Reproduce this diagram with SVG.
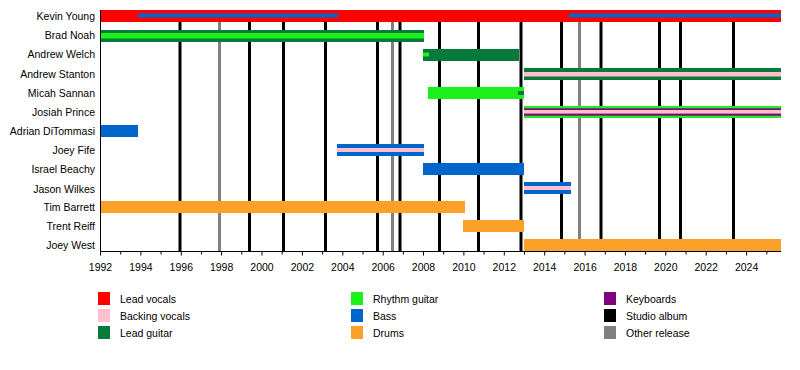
<svg xmlns="http://www.w3.org/2000/svg" width="800" height="370" viewBox="0 0 800 370">
<style>
text{font-family:"Liberation Sans",Arial,sans-serif;font-size:10.5px;fill:#000}
.name{text-anchor:end}
.yr{text-anchor:middle}
.lv{fill:#FF0000}.bv{fill:#FFC0CB}.lg{fill:#077A3B}.rg{fill:#1BF01B}.ba{fill:#0066CC}.dr{fill:#FBA12A}.kb{fill:#800080}
.sa{stroke:#000;stroke-width:3}.or{stroke:#808080;stroke-width:3}
.ax{stroke:#000;stroke-width:1;fill:none}
</style>
<rect width="800" height="370" fill="#fff"/>
<g id="releases">
<line class="sa" x1="180" y1="10" x2="180" y2="251"/>
<line class="or" x1="219.5" y1="10" x2="219.5" y2="251"/>
<line class="sa" x1="249.5" y1="10" x2="249.5" y2="251"/>
<line class="sa" x1="283.5" y1="10" x2="283.5" y2="251"/>
<line class="sa" x1="325.5" y1="10" x2="325.5" y2="251"/>
<line class="sa" x1="377.5" y1="10" x2="377.5" y2="251"/>
<line class="or" x1="392.5" y1="10" x2="392.5" y2="251"/>
<line class="sa" x1="400" y1="10" x2="400" y2="251"/>
<line class="sa" x1="439.5" y1="10" x2="439.5" y2="251"/>
<line class="sa" x1="478.5" y1="10" x2="478.5" y2="251"/>
<line class="sa" x1="521" y1="10" x2="521" y2="251"/>
<line class="sa" x1="561.5" y1="10" x2="561.5" y2="251"/>
<line class="or" x1="579.5" y1="10" x2="579.5" y2="251"/>
<line class="sa" x1="601" y1="10" x2="601" y2="251"/>
<line class="sa" x1="659.5" y1="10" x2="659.5" y2="251"/>
<line class="sa" x1="680.5" y1="10" x2="680.5" y2="251"/>
<line class="sa" x1="733.5" y1="10" x2="733.5" y2="251"/>
</g>
<g id="kevin-young">
<text class="name" x="95" y="20">Kevin Young</text>
<rect class="lv" x="100" y="10" width="681" height="12"/>
<rect class="ba" x="138" y="13.5" width="200" height="4"/>
<rect class="ba" x="569" y="13.5" width="212" height="4"/>
</g>
<g id="brad-noah">
<text class="name" x="95" y="39">Brad Noah</text>
<rect class="lg" x="100" y="30" width="324" height="12"/>
<rect class="rg" x="100" y="33" width="324" height="5.5"/>
</g>
<g id="andrew-welch">
<text class="name" x="95" y="58">Andrew Welch</text>
<rect class="lg" x="423" y="49" width="96" height="12"/>
<rect class="rg" x="423" y="52.5" width="6" height="4"/>
</g>
<g id="andrew-stanton">
<text class="name" x="95" y="78">Andrew Stanton</text>
<rect class="lg" x="524" y="68" width="257" height="12"/>
<rect class="bv" x="524" y="72" width="257" height="4.5"/>
</g>
<g id="micah-sannan">
<text class="name" x="95" y="97">Micah Sannan</text>
<rect class="rg" x="428" y="87" width="96" height="12"/>
<rect class="lg" x="518" y="91" width="6" height="4"/>
</g>
<g id="josiah-prince">
<text class="name" x="95" y="116">Josiah Prince</text>
<rect class="rg" x="524" y="106" width="257" height="12"/>
<rect class="kb" x="524" y="108.3" width="257" height="7.4"/>
<rect class="bv" x="524" y="110" width="257" height="3.6"/>
</g>
<g id="adrian-ditommasi">
<text class="name" x="95" y="135">Adrian DiTommasi</text>
<rect class="ba" x="100" y="125" width="38" height="12"/>
</g>
<g id="joey-fife">
<text class="name" x="95" y="154">Joey Fife</text>
<rect class="ba" x="337" y="144" width="87" height="12"/>
<rect class="bv" x="337" y="148" width="87" height="4"/>
</g>
<g id="israel-beachy">
<text class="name" x="95" y="173">Israel Beachy</text>
<rect class="ba" x="423" y="163" width="101" height="12"/>
</g>
<g id="jason-wilkes">
<text class="name" x="95" y="193">Jason Wilkes</text>
<rect class="ba" x="524" y="182" width="47" height="12"/>
<rect class="bv" x="524" y="186" width="47" height="4"/>
</g>
<g id="tim-barrett">
<text class="name" x="95" y="211">Tim Barrett</text>
<rect class="dr" x="100" y="201" width="365" height="12"/>
</g>
<g id="trent-reiff">
<text class="name" x="95" y="230">Trent Reiff</text>
<rect class="dr" x="463" y="220" width="61" height="12"/>
</g>
<g id="joey-west">
<text class="name" x="95" y="249">Joey West</text>
<rect class="dr" x="524" y="239" width="257" height="12"/>
</g>
<g id="axis">
<path class="ax" d="M100.5 10 V251.5 H781"/>
<path class="ax" d="M100.5 251.5v4M120.7 251.5v3M140.9 251.5v4M161.1 251.5v3M181.3 251.5v4M201.5 251.5v3M221.6 251.5v4M241.8 251.5v3M262 251.5v4M282.2 251.5v3M302.4 251.5v4M322.6 251.5v3M342.8 251.5v4M363 251.5v3M383.2 251.5v4M403.4 251.5v3M423.5 251.5v4M443.7 251.5v3M463.9 251.5v4M484.1 251.5v3M504.3 251.5v4M524.5 251.5v3M544.7 251.5v4M564.9 251.5v3M585.1 251.5v4M605.3 251.5v3M625.4 251.5v4M645.6 251.5v3M665.8 251.5v4M686 251.5v3M706.2 251.5v4M726.4 251.5v3M746.6 251.5v4M766.8 251.5v3"/>
<text class="yr" x="100.5" y="271">1992</text>
<text class="yr" x="140.9" y="271">1994</text>
<text class="yr" x="181.3" y="271">1996</text>
<text class="yr" x="221.6" y="271">1998</text>
<text class="yr" x="262" y="271">2000</text>
<text class="yr" x="302.4" y="271">2002</text>
<text class="yr" x="342.8" y="271">2004</text>
<text class="yr" x="383.2" y="271">2006</text>
<text class="yr" x="423.5" y="271">2008</text>
<text class="yr" x="463.9" y="271">2010</text>
<text class="yr" x="504.3" y="271">2012</text>
<text class="yr" x="544.7" y="271">2014</text>
<text class="yr" x="585.1" y="271">2016</text>
<text class="yr" x="625.4" y="271">2018</text>
<text class="yr" x="665.8" y="271">2020</text>
<text class="yr" x="706.2" y="271">2022</text>
<text class="yr" x="746.6" y="271">2024</text>
</g>
<g id="legend">
<rect class="lv" x="98" y="292" width="12" height="13"/><text x="120" y="303">Lead vocals</text>
<rect class="bv" x="98" y="309" width="12" height="13"/><text x="120" y="320">Backing vocals</text>
<rect class="lg" x="98" y="326" width="12" height="13"/><text x="120" y="337">Lead guitar</text>
<rect class="rg" x="351" y="292" width="12" height="13"/><text x="373" y="303">Rhythm guitar</text>
<rect class="ba" x="351" y="309" width="12" height="13"/><text x="373" y="320">Bass</text>
<rect class="dr" x="351" y="326" width="12" height="13"/><text x="373" y="337">Drums</text>
<rect class="kb" x="604" y="292" width="12" height="13"/><text x="626" y="303">Keyboards</text>
<rect fill="#000" x="604" y="309" width="12" height="13"/><text x="626" y="320">Studio album</text>
<rect fill="#808080" x="604" y="326" width="12" height="13"/><text x="626" y="337">Other release</text>
</g>
</svg>
